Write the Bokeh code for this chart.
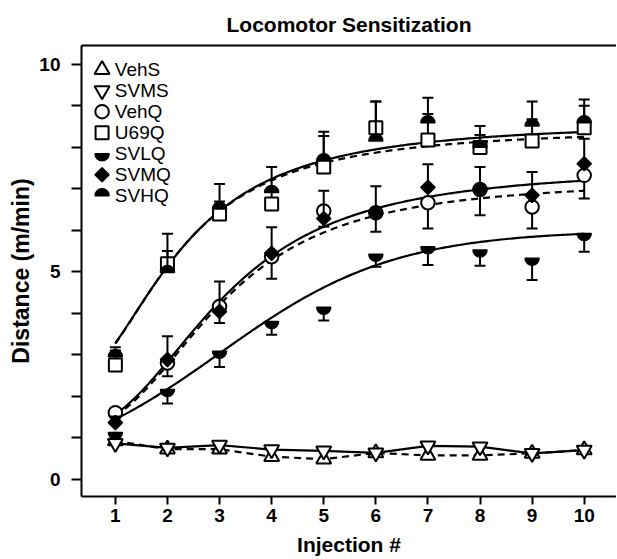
import numpy as np
from bokeh.plotting import figure
from bokeh.models import LinearAxis, FixedTicker, Range1d
from bokeh.embed import file_html
from bokeh.resources import INLINE
from bokeh.core.properties import value

# ---------------- data ----------------
injection = [1, 2, 3, 4, 5, 6, 7, 8, 9, 10]
series_names = ["VehS", "SVMS", "VehQ", "U69Q", "SVLQ", "SVMQ", "SVHQ"]

VehS = [0.92, 0.72, 0.72, 0.54, 0.48, 0.63, 0.57, 0.57, 0.62, 0.70]
SVMS = [0.86, 0.75, 0.82, 0.71, 0.68, 0.63, 0.80, 0.78, 0.62, 0.70]
VehQ = [1.60, 2.80, 4.16, 5.36, 6.46, 6.42, 6.66, 6.98, 6.56, 7.32]
U69Q = [2.75, 5.19, 6.39, 6.63, 7.52, 8.47, 8.17, 7.99, 8.15, 8.47]
SVLQ = [1.12, 2.16, 3.08, 3.80, 4.14, 5.42, 5.60, 5.52, 5.32, 5.92]
SVMQ = [1.36, 2.88, 4.04, 5.44, 6.28, 6.42, 7.03, 6.98, 6.84, 7.60]
SVHQ = [2.95, 4.98, 6.51, 6.91, 7.67, 8.15, 8.59, 8.00, 8.51, 8.59]

# one-sided SEM bars (upward for U69Q/SVMQ/SVHQ, downward for VehQ/SVLQ)
U69Q_err = [0.35, 0.72, 0.30, 0.30, 0.75, 0.63, 0.63, 0.30, 0.52, 0.53]
SVHQ_err = [0.23, 0.52, 0.60, 0.61, 0.70, 0.95, 0.60, 0.51, 0.59, 0.56]
SVMQ_err = [0.15, 0.56, 0.72, 0.63, 0.67, 0.64, 0.56, 0.54, 0.56, 0.60]
VehQ_err = [0.12, 0.32, 0.40, 0.53, 0.38, 0.46, 0.62, 0.62, 0.52, 0.56]
SVLQ_err = [0.15, 0.34, 0.38, 0.32, 0.32, 0.30, 0.44, 0.38, 0.52, 0.44]

# sigmoid fit parameters: bottom, top, midpoint, slope
fit_SVHQ = [2.3, 8.6, 2.2, 2.15]     # Hill (log x)
fit_U69Q = [2.3, 8.45, 2.15, 2.2]    # Hill (log x)
fit_SVMQ = [1.2, 7.5, 3.05, 2.5]     # Hill (log x)
fit_VehQ = [1.2, 7.2, 3.0, 2.6]      # Hill (log x)
fit_SVLQ = [0.06, 6.0, 3.0, 1.675]   # logistic (linear x), last = scale

y_major_ticks = [0, 5, 10]
y_minor_ticks = [1, 2, 3, 4, 6, 7, 8, 9]

FONT = "Liberation Sans"

def hill(params, xs):
    b, t, k, h = params
    xs = np.asarray(xs, dtype=float)
    return b + (t - b) / (1.0 + (k / xs) ** h)

def logistic(params, xs):
    b, t, x0, s = params
    xs = np.asarray(xs, dtype=float)
    return b + (t - b) / (1.0 + np.exp(-(xs - x0) / s))

p = figure(width=616, height=558, output_backend="svg", toolbar_location=None,
           x_range=Range1d(0.35, 10.62), y_range=Range1d(-0.42, 10.45),
           min_border_left=81, min_border_right=0, min_border_top=45,
           min_border_bottom=61)
p.outline_line_color = None
p.grid.visible = False
p.background_fill_color = "white"

p.title.text = "Locomotor Sensitization"
p.title.align = "center"
p.title.text_font = FONT
p.title.text_font_size = "21px"
p.title.text_font_style = "bold"
p.title.text_color = "black"
p.title.standoff = 20
p.title.offset = -11

xa = p.xaxis[0]
xa.ticker = FixedTicker(ticks=injection)
xa.axis_label = "Injection #"
ya = p.yaxis[0]
ya.ticker = FixedTicker(ticks=y_major_ticks, minor_ticks=y_minor_ticks)
ya.axis_label = "Distance (m/min)"
for ax in (xa, ya):
    ax.axis_line_width = 2
    ax.major_tick_line_width = 2
    ax.minor_tick_line_width = 2
    ax.major_tick_in = 0
    ax.minor_tick_in = 0
    ax.major_label_text_font = FONT
    ax.major_label_text_font_style = "bold"
    ax.major_label_text_font_size = "19px"
    ax.axis_label_text_font = FONT
    ax.axis_label_text_font_style = "bold"
    ax.major_label_text_color = "black"
    ax.axis_label_text_color = "black"
xa.major_tick_out = 8
xa.major_label_standoff = 4
xa.axis_label_standoff = 8
xa.axis_label_text_font_size = "21px"
ya.major_tick_out = 10
ya.minor_tick_out = 10
ya.major_label_standoff = 11
ya.axis_label_standoff = 2
ya.axis_label_text_font_size = "23px"

top = LinearAxis(ticker=FixedTicker(ticks=[]), axis_line_width=2,
                 major_tick_out=0, major_tick_in=0, minor_tick_out=0,
                 minor_tick_in=0, major_label_text_font_size="0px")
p.add_layout(top, "above")

# ---------------- fitted curves and connecting lines ----------------
xs = np.linspace(injection[0], injection[-1], 200)
p.line(xs, hill(fit_U69Q, xs), line_color="black", line_width=2.2, line_dash="7 5")
p.line(xs, hill(fit_SVHQ, xs), line_color="black", line_width=2.2)
p.line(xs, hill(fit_VehQ, xs), line_color="black", line_width=2.2, line_dash="7 5")
p.line(xs, hill(fit_SVMQ, xs), line_color="black", line_width=2.2)
p.line(xs, logistic(fit_SVLQ, xs), line_color="black", line_width=2.2)
p.line(injection, VehS, line_color="black", line_width=2.2, line_dash="7 5")
p.line(injection, SVMS, line_color="black", line_width=2.2)

# ---------------- markers ----------------
def draw_marker(kind, xv, yv):
    if kind in ("triangle", "inverted_triangle", "circle", "square"):
        size = {"triangle": 15, "inverted_triangle": 15, "circle": 13.5, "square": 13}[kind]
        p.scatter(xv, yv, marker=kind, size=size, fill_color="white",
                  line_color="black", line_width=2)
    elif kind == "diamond":
        p.scatter(xv, yv, marker="square", angle=np.pi / 4, size=10,
                  fill_color="black", line_color="black", line_width=1.5)
    elif kind == "dome":
        p.wedge(xv, yv, radius=7, radius_units="screen", start_angle=0,
                end_angle=np.pi, fill_color="black", line_color="black",
                line_width=1.5)
    elif kind == "cup":
        p.wedge(xv, yv, radius=7, radius_units="screen", start_angle=np.pi,
                end_angle=2 * np.pi, fill_color="black", line_color="black",
                line_width=1.5)

def draw_err(xv, yv, ev, direction):
    yv = np.asarray(yv)
    ev = np.asarray(ev)
    end = yv + direction * ev
    p.segment(xv, yv, xv, end, line_color="black", line_width=2)
    p.scatter(xv, end, marker="dash", size=11, line_color="black", line_width=2)

kinds = ["triangle", "inverted_triangle", "circle", "square", "cup", "diamond", "dome"]
values = [VehS, SVMS, VehQ, U69Q, SVLQ, SVMQ, SVHQ]
errors = [None, None, (VehQ_err, -1), (U69Q_err, 1), (SVLQ_err, -1),
          (SVMQ_err, 1), (SVHQ_err, 1)]

for kind, vals, err in zip(kinds, values, errors):
    if err is not None:
        draw_err(injection, vals, err[0], err[1])
    draw_marker(kind, injection, vals)

# ---------------- legend (drawn by hand, top-left inside frame) ----------------
leg_marker_x = 0.745
leg_text_x = 0.99
leg_top = 9.87
leg_dy = 0.507
for i, (kind, name) in enumerate(zip(kinds, series_names)):
    yy = leg_top - i * leg_dy
    draw_marker(kind, [leg_marker_x], [yy])
p.text(x=[leg_text_x] * len(series_names),
       y=[leg_top - i * leg_dy for i in range(len(series_names))],
       text=series_names, text_font=value(FONT), text_font_size="19px",
       text_baseline="middle", text_align="left", text_color="black")

open("out.html", "w").write(file_html(p, INLINE))
